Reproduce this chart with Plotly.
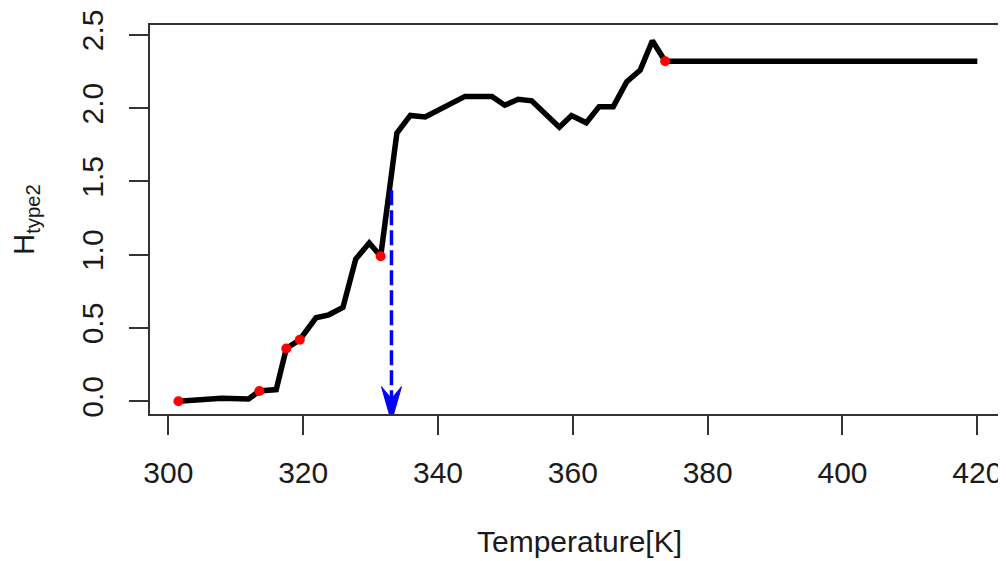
import plotly.graph_objects as go

# ---- data ----
temperature = [301.5, 305.4, 307.9, 311.9, 313.5, 316.0, 317.5, 319.5, 321.9, 323.8,
               325.9, 327.8, 329.8, 331.5, 333.9, 335.9, 338.1, 344.0, 348.0, 349.9,
               351.9, 353.9, 355.9, 358.0, 359.8, 362.0, 363.9, 366.0, 368.0, 370.0,
               371.8, 373.7, 420.0]
h_type2 = [0.00, 0.01, 0.02, 0.016, 0.07, 0.08, 0.36, 0.42, 0.57, 0.59,
           0.64, 0.97, 1.08, 0.99, 1.83, 1.95, 1.94, 2.08, 2.08, 2.02,
           2.06, 2.05, 1.96, 1.87, 1.95, 1.90, 2.01, 2.01, 2.18, 2.26,
           2.46, 2.32, 2.32]

red_temperature = [301.5, 313.5, 317.5, 319.5, 331.5, 373.7]
red_h = [0.00, 0.07, 0.36, 0.42, 0.99, 2.32]

arrow_x = [333.1, 333.1]
arrow_y = [1.44, -0.09]
arrow_tip_y = -0.139

x_ticks = [300, 320, 340, 360, 380, 400, 420]
y_ticks = [0.0, 0.5, 1.0, 1.5, 2.0, 2.5]
x_range = [297.28, 424.70]
y_range = [-0.0866, 2.567]

FONT = "Liberation Sans, Arial, Helvetica, sans-serif"
TXT = "#1a1a1a"
AX = "#333333"

fig = go.Figure()
fig.add_trace(go.Scatter(x=temperature, y=h_type2, mode="lines",
                         line=dict(color="black", width=5.5), showlegend=False,
                         hoverinfo="skip"))
fig.add_trace(go.Scatter(x=arrow_x, y=arrow_y, mode="lines",
                         line=dict(color="#0000ff", width=3.5, dash="15px,5px"),
                         showlegend=False, hoverinfo="skip"))
fig.add_trace(go.Scatter(x=red_temperature, y=red_h, mode="markers",
                         marker=dict(color="#ff0000", size=10), showlegend=False,
                         cliponaxis=False, hoverinfo="skip"))

# arrow head (pixel-sized path anchored at the tip)
fig.add_shape(type="path", xref="x", yref="y", xsizemode="pixel", ysizemode="pixel",
              xanchor=arrow_x[1], yanchor=arrow_tip_y,
              path="M0,0 L-10,35 L0,23 L10,35 Z",
              fillcolor="#0000ff", line=dict(color="#0000ff", width=1), layer="above")

fig.update_layout(
    width=1006, height=561,
    margin=dict(l=142, r=5, t=17, b=155, autoexpand=False),
    paper_bgcolor="white", plot_bgcolor="white",
    font=dict(family=FONT, size=30, color=TXT),
    xaxis=dict(range=x_range, tickvals=x_ticks, ticks="outside", ticklen=19,
               tickwidth=2, tickcolor=AX, showline=True, linecolor=AX, linewidth=2,
               mirror=True, showgrid=False, zeroline=False, ticklabelstandoff=12,
               tickfont=dict(size=30, color=TXT),
               title=dict(text="Temperature[K]", font=dict(size=30, color=TXT), standoff=43)),
    yaxis=dict(range=y_range, tickvals=y_ticks, tickformat=".1f", ticks="outside",
               ticklen=19, tickwidth=2, tickcolor=AX, showline=True, linecolor=AX,
               linewidth=2, mirror=False, showgrid=False, zeroline=False,
               ticklabelstandoff=14,
               tickangle=-90, tickfont=dict(size=30, color=TXT),
               title=dict(text="H<sub>type2</sub>", font=dict(size=29, color=TXT), standoff=36)),
)

fig.write_html("out.html")
